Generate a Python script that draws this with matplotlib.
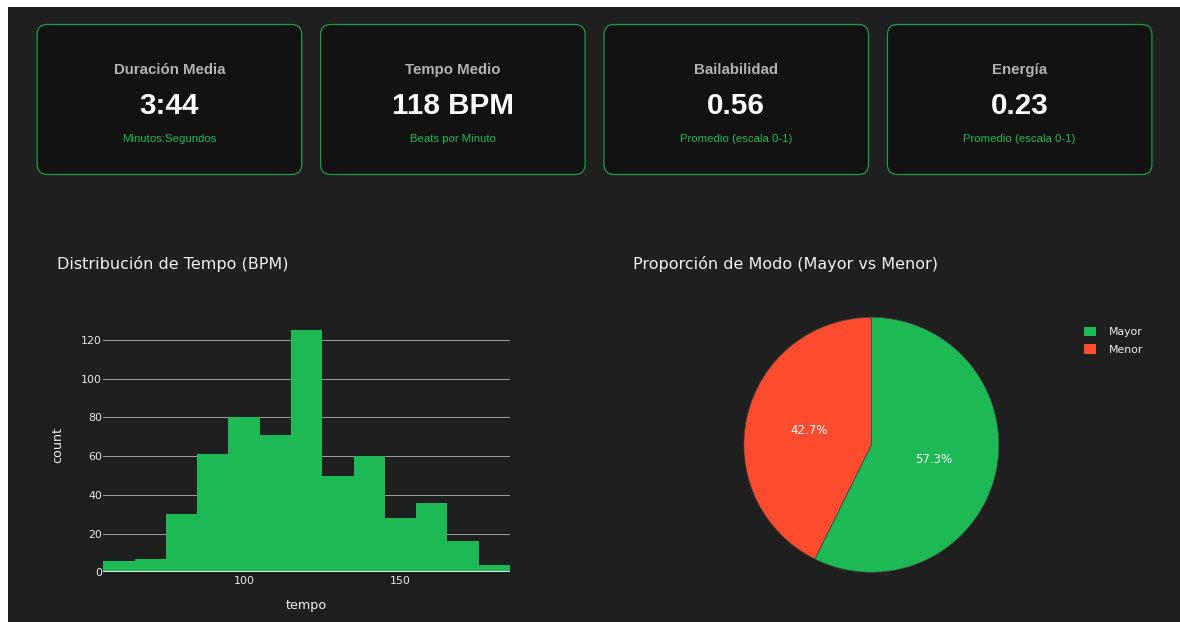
import matplotlib
matplotlib.use("Agg")
import matplotlib.pyplot as plt
from matplotlib.patches import FancyBboxPatch, Rectangle, Patch

# ---- data ----
card_titles = ["Duración Media", "Tempo Medio", "Bailabilidad", "Energía"]
card_values = ["3:44", "118 BPM", "0.56", "0.23"]
card_notes = ["Minutos:Segundos", "Beats por Minuto",
              "Promedio (escala 0-1)", "Promedio (escala 0-1)"]

tempo_edges = [55, 65, 75, 85, 95, 105, 115, 125, 135, 145, 155, 165, 175, 185]
tempo_counts = [6, 7, 30, 61, 80, 71, 125, 50, 60, 28, 36, 16, 4]

mode_labels = ["Mayor", "Menor"]
mode_share = [57.3, 42.7]

# ---- styling ----
W, H = 1180, 622
PAGE_BG = "#1f1f1f"
CARD_BG = "#121212"
CARD_EDGE = "#1e9a48"
GREEN = "#1db954"
RED = "#ff4b2e"
TEXT = "#f0f0f0"

plt.rcParams["font.family"] = ["DejaVu Sans"]


def fx(x):
    return x / W


def fy(y):
    return 1 - y / H


fig = plt.figure(figsize=(W / 100, H / 100), dpi=100, facecolor="white")

# dark page area
fig.add_artist(Rectangle((fx(8), 0), 1 - fx(8), fy(7), transform=fig.transFigure,
                         facecolor=PAGE_BG, edgecolor="none", zorder=0))

# ---- KPI cards ----
card_w, card_h = 264.5, 150
card_top = 24.5
for i, (t, v, n) in enumerate(zip(card_titles, card_values, card_notes)):
    x0 = 37.2 + i * 283.4
    box = FancyBboxPatch((x0 / 100, (H - card_top - card_h) / 100), card_w / 100, card_h / 100,
                         boxstyle="round,pad=0,rounding_size=0.1",
                         transform=fig.dpi_scale_trans, facecolor=CARD_BG,
                         edgecolor=CARD_EDGE, linewidth=0.9, zorder=1)
    fig.add_artist(box)
    xc = fx(x0 + card_w / 2)
    fig.text(xc, fy(74), t, ha="center", va="baseline", fontsize=10.8, fontweight="bold",
             family="Liberation Sans", color="#b3b3b3", zorder=2)
    fig.text(xc, fy(114.3), v, ha="center", va="baseline", fontsize=21.3, fontweight="bold",
             family="Liberation Sans", color="white", zorder=2)
    fig.text(xc, fy(141.6), n, ha="center", va="baseline", fontsize=8.2,
             family="Liberation Sans", color=GREEN, zorder=2)

# ---- tempo histogram ----
fig.text(fx(56.7), fy(269.5), "Distribución de Tempo (BPM)", ha="left", va="baseline",
         fontsize=11.5, color=TEXT)

ax = fig.add_axes([fx(103.3), fy(572.3), (510 - 103.3) / W, (572.3 - 317.6) / H])
ax.set_facecolor("none")
widths = [b - a for a, b in zip(tempo_edges[:-1], tempo_edges[1:])]
ax.bar(tempo_edges[:-1], tempo_counts, width=widths, align="edge", color=GREEN,
       linewidth=0, zorder=2)
ax.set_xlim(tempo_edges[0], tempo_edges[-1])
ax.set_ylim(0, max(tempo_counts) / 0.95)
ax.set_yticks(range(0, 121, 20))
ax.set_xticks([100, 150])
ax.grid(axis="y", color="#9a9a9a", linewidth=0.75, zorder=0)
ax.grid(axis="x", visible=False)
ax.axhline(0, color="#e6e6e6", linewidth=1.4, zorder=3)
for s in ax.spines.values():
    s.set_visible(False)
ax.tick_params(axis="both", length=0, labelsize=7.9, labelcolor="#e8e8e8")
ax.tick_params(axis="y", pad=1)
ax.tick_params(axis="x", pad=2.5)
fig.text(fx(306.7), fy(605.5), "tempo", ha="center", va="center", fontsize=9.2, color=TEXT)
fig.text(fx(57.5), fy(445), "count", ha="center", va="center", rotation=90,
         fontsize=9.2, color=TEXT)

# ---- mode pie ----
fig.text(fx(632.6), fy(269.5), "Proporción de Modo (Mayor vs Menor)", ha="left",
         va="baseline", fontsize=11.5, color=TEXT)

R = 127.5
cx, cy = 871.4, 444.8
ax2 = fig.add_axes([fx(cx - R), fy(cy + R), 2 * R / W, 2 * R / H])
wedges, _, autotexts = ax2.pie(mode_share, colors=[GREEN, RED], startangle=90,
                               counterclock=False, autopct="%1.1f%%", pctdistance=0.5,
                               wedgeprops=dict(linewidth=0.5, edgecolor="#444444"),
                               textprops=dict(color="white", fontsize=8.5))
ax2.set_xlim(-1, 1)
ax2.set_ylim(-1, 1)
ax2.set_aspect("auto")
ax2.axis("off")

handles = [Patch(facecolor=GREEN, edgecolor="none"), Patch(facecolor=RED, edgecolor="none")]
leg = ax2.legend(handles, mode_labels, loc="upper left",
                 bbox_to_anchor=(fx(1084), fy(326.5)), bbox_transform=fig.transFigure,
                 frameon=False, fontsize=7.8, handlelength=1.08, handleheight=1.0,
                 handletextpad=1.26, labelspacing=0.68, borderpad=0, borderaxespad=0)
for t in leg.get_texts():
    t.set_color(TEXT)

fig.savefig("out.png", dpi=100, facecolor=fig.get_facecolor())
